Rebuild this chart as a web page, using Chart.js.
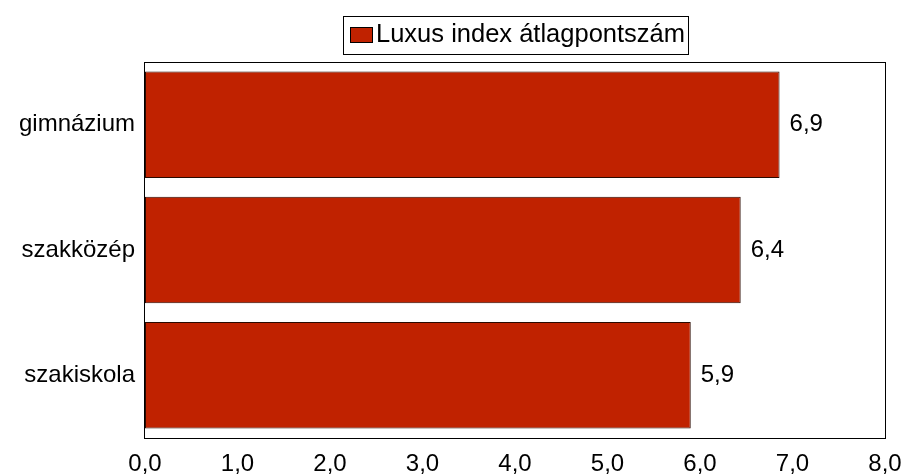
<!DOCTYPE html>
<html>
<head>
<meta charset="utf-8">
<script src="https://cdn.jsdelivr.net/npm/chart.js@4"></script>
<style>
  html, body { margin: 0; padding: 0; background: #fff; }
  #wrap { width: 905px; height: 475px; }
</style>
</head>
<body>
<div id="wrap"><canvas id="c" width="905" height="475"></canvas></div>
<script>
const categories = ['gimnázium', 'szakközép', 'szakiskola'];
const values = [6.86, 6.44, 5.9];
const seriesLabel = 'Luxus index átlagpontszám';
const xTicks = [0, 1, 2, 3, 4, 5, 6, 7, 8];

const FONT = '"Liberation Sans", Arial, sans-serif';
const fmt = v => v.toFixed(1).replace('.', ',');

// frame around plot, value labels and boxed legend
const extras = {
  id: 'extras',
  afterDatasetsDraw(chart) {
    const { ctx, chartArea: a } = chart;
    ctx.save();
    ctx.strokeStyle = '#000';
    ctx.lineWidth = 1;
    ctx.strokeRect(Math.round(a.left) - 0.5, Math.round(a.top) + 0.5, Math.round(a.right - a.left) + 1, Math.round(a.bottom - a.top));

    // value labels
    ctx.font = '24px ' + FONT;
    ctx.fillStyle = '#000';
    ctx.textBaseline = 'middle';
    ctx.textAlign = 'left';
    chart.getDatasetMeta(0).data.forEach((bar, i) => {
      ctx.fillText(fmt(values[i]), bar.x + 10, bar.y);
    });

    // legend
    const lx = 343, ly = 16, lw = 345, lh = 38;
    ctx.fillStyle = '#fff';
    ctx.fillRect(lx, ly, lw, lh);
    ctx.strokeRect(lx + 0.5, ly + 0.5, lw, lh);
    ctx.fillStyle = '#C02200';
    ctx.fillRect(350, 27, 23, 16);
    ctx.strokeStyle = '#000';
    ctx.strokeRect(350.5, 27.5, 22, 15);
    ctx.save();
    ctx.beginPath();
    ctx.rect(lx, ly, lw, lh);
    ctx.clip();
    ctx.fillStyle = '#000';
    ctx.font = '25.5px ' + FONT;
    ctx.fillText(chart.data.datasets[0].label, 376, 35);
    ctx.restore();
    ctx.restore();
  }
};

new Chart(document.getElementById('c'), {
  type: 'bar',
  data: {
    labels: categories,
    datasets: [{
      label: seriesLabel,
      data: values,
      backgroundColor: '#C02200',
      borderColor: '#2a0a00',
      borderWidth: 1,
      borderSkipped: false,
      barPercentage: 0.85,
      categoryPercentage: 1
    }]
  },
  options: {
    indexAxis: 'y',
    responsive: false,
    animation: false,
    layout: { padding: { top: 62, right: 20, bottom: 0, left: 0 } },
    plugins: { legend: { display: false }, tooltip: { enabled: false } },
    scales: {
      x: {
        min: 0, max: 8,
        afterBuildTicks: s => { s.ticks = xTicks.map(v => ({ value: v })); },
        afterFit: s => { s.height = 37; s.paddingLeft = 0; s.paddingRight = 0; },
        grid: { display: false, drawTicks: false },
        border: { display: false },
        ticks: { padding: 12, color: '#000', font: { family: FONT, size: 24 }, callback: v => fmt(v), maxRotation: 0 }
      },
      y: {
        afterFit: s => { s.width = 145; s.paddingTop = 0; s.paddingBottom = 0; },
        grid: { display: false, drawTicks: false },
        border: { display: false },
        ticks: { padding: 10, color: '#000', font: { family: FONT, size: 24 } }
      }
    }
  },
  plugins: [extras]
});
</script>
</body>
</html>
